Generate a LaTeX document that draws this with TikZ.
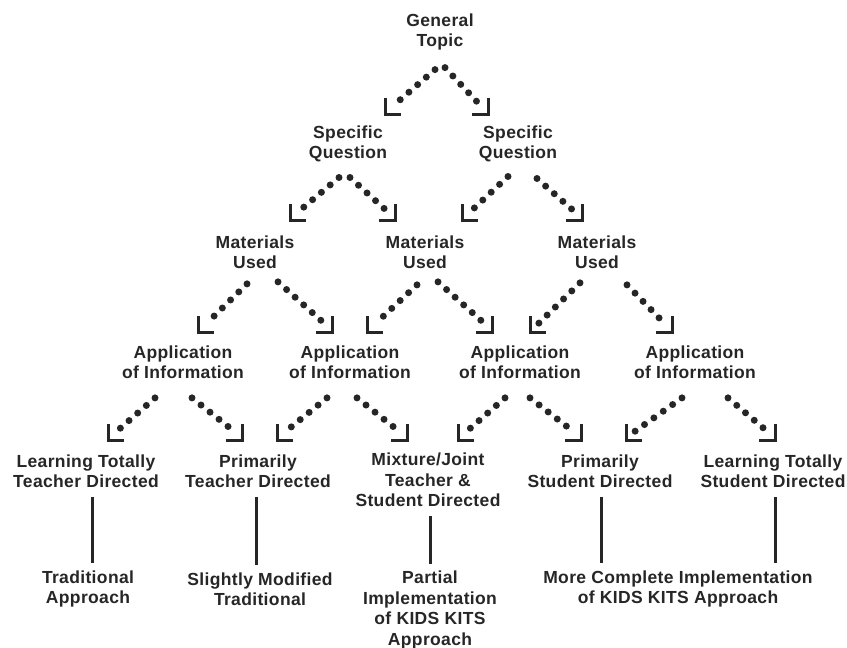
\documentclass[tikz,border=0pt]{standalone}
\usepackage{fontspec}
\setmainfont{Liberation Sans}[LetterSpace=2]
\usetikzlibrary{positioning}

\definecolor{ink}{HTML}{262626}

\tikzset{
  topic/.style={align=center, inner sep=1pt, text=ink,
    font=\fontsize{17.5}{20.5}\selectfont\bfseries},
  trail/.style={draw=ink, line width=7pt, line cap=round,
    dash pattern=on 0pt off 11.5pt},
  corner/.style={draw=ink, line width=3pt},
  stem/.style={draw=ink, line width=3pt, shorten <=8pt, shorten >=6pt}
}

% dotted leg ending in a corner mark
\newcommand{\leftleg}[2]{%
  \draw[trail] (#1) -- ([shift={(8,-8)}]#2);
  \draw[corner] ([shift={(0,-16)}]#2) -- (#2) -- ([shift={(16,0)}]#2);}
\newcommand{\rightleg}[2]{%
  \draw[trail] (#1) -- ([shift={(-7,-8)}]#2);
  \draw[corner] ([shift={(0,-16)}]#2) -- (#2) -- ([shift={(-16,0)}]#2);}

\begin{document}
\begin{tikzpicture}[x=1pt, y=-1pt]
  \useasboundingbox (0,0) rectangle (847,648);

  % levels
  \node[topic] (gt) at (440,32) {General\\Topic};

  \node[topic] (sq1) at (348,144) {Specific\\Question};
  \node[topic] (sq2) at (518,144) {Specific\\Question};

  \node[topic] (mu1) at (255,252) {Materials\\Used};
  \node[topic] (mu2) at (425,252) {Materials\\Used};
  \node[topic] (mu3) at (597,252) {Materials\\Used};

  \node[topic] (ap1) at (183,362) {Application\\of Information};
  \node[topic] (ap2) at (350,362) {Application\\of Information};
  \node[topic] (ap3) at (520,362) {Application\\of Information};
  \node[topic] (ap4) at (695,362) {Application\\of Information};

  \node[topic] (lf1) at (86,471) {Learning Totally\\Teacher Directed};
  \node[topic] (lf2) at (258,471) {Primarily\\Teacher Directed};
  \node[topic] (lf3) at (428,480) {Mixture/Joint\\Teacher \&\\Student Directed};
  \node[topic] (lf4) at (600,471) {Primarily\\Student Directed};
  \node[topic] (lf5) at (773,471) {Learning Totally\\Student Directed};

  \node[topic] (bt1) at (88,589) {Traditional\\Approach};
  \node[topic] (bt2) at (260,589) {Slightly Modified\\Traditional};
  \node[topic] (bt3) at (430,610) {Partial\\Implementation\\of KIDS KITS\\Approach};
  \node[topic] (bt4) at (678,589) {More Complete Implementation\\of KIDS KITS Approach};

  % corner points
  \coordinate (k1a) at (385,114);
  \coordinate (k1b) at (488,114);

  \coordinate (k2a) at (290,220);
  \coordinate (k2b) at (395,220);
  \coordinate (k2c) at (462,220);
  \coordinate (k2d) at (582,220);

  \coordinate (k3a) at (198,332);
  \coordinate (k3b) at (332,332);
  \coordinate (k3c) at (367,332);
  \coordinate (k3d) at (492,332);
  \coordinate (k3e) at (530,332);
  \coordinate (k3f) at (672,332);

  \coordinate (k4a) at (108,440);
  \coordinate (k4b) at (242,440);
  \coordinate (k4c) at (277,440);
  \coordinate (k4d) at (407,440);
  \coordinate (k4e) at (458,440);
  \coordinate (k4f) at (581,440);
  \coordinate (k4g) at (626,440);
  \coordinate (k4h) at (775,440);

  % legs
  \leftleg{[shift={(-5,18)}]gt.south}{k1a}
  \rightleg{[shift={(5,16)}]gt.south}{k1b}

  \leftleg{[shift={(-9,14)}]sq1.south}{k2a}
  \rightleg{[shift={(2,14)}]sq1.south}{k2b}
  \leftleg{[shift={(-10,13)}]sq2.south}{k2c}
  \rightleg{[shift={(19,15)}]sq2.south}{k2d}

  \leftleg{[shift={(-8,14)}]mu1.south}{k3a}
  \rightleg{[shift={(23,12)}]mu1.south}{k3b}
  \leftleg{[shift={(-8,15)}]mu2.south}{k3c}
  \rightleg{[shift={(13,12)}]mu2.south}{k3d}
  \leftleg{[shift={(-17,13)}]mu3.south}{k3e}
  \rightleg{[shift={(30,15)}]mu3.south}{k3f}

  \leftleg{[shift={(-28,18)}]ap1.south}{k4a}
  \rightleg{[shift={(9,18)}]ap1.south}{k4b}
  \leftleg{[shift={(-23,18)}]ap2.south}{k4c}
  \rightleg{[shift={(7,18)}]ap2.south}{k4d}
  \leftleg{[shift={(-15,18)}]ap3.south}{k4e}
  \rightleg{[shift={(10,18)}]ap3.south}{k4f}
  \leftleg{[shift={(-13,18)}]ap4.south}{k4g}
  \rightleg{[shift={(33,18)}]ap4.south}{k4h}

  % stems
  \draw[stem] ([xshift=6pt]lf1.south) -- ([xshift=6pt]lf1.south |- bt1.north);
  \draw[stem] ([xshift=-2pt]lf2.south) -- ([xshift=-2pt]lf2.south |- bt2.north);
  \draw[stem] ([xshift=2pt]lf3.south) -- ([xshift=2pt]lf3.south |- bt3.north);
  \draw[stem] ([xshift=1pt]lf4.south) -- ([xshift=1pt]lf4.south |- bt4.north);
  \draw[stem] ([xshift=2pt]lf5.south) -- ([xshift=2pt]lf5.south |- bt4.north);
\end{tikzpicture}
\end{document}
